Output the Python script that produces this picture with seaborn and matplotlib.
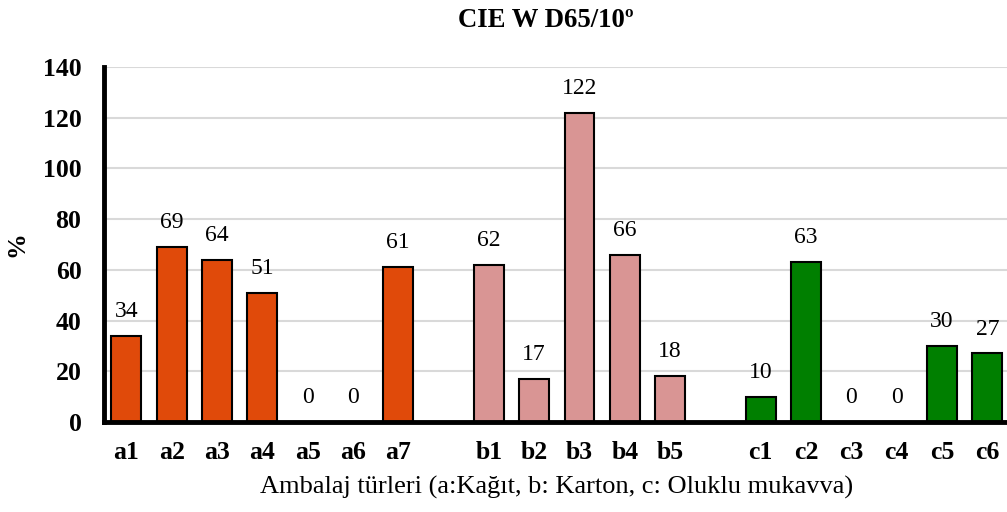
import matplotlib
matplotlib.use("Agg")
import matplotlib.pyplot as plt
import seaborn as sns
import pandas as pd

categories = ["a1", "a2", "a3", "a4", "a5", "a6", "a7",
              "b1", "b2", "b3", "b4", "b5",
              "c1", "c2", "c3", "c4", "c5", "c6"]
values = [34, 69, 64, 51, 0, 0, 61,
          62, 17, 122, 66, 18,
          10, 63, 0, 0, 30, 27]
groups = ["a"] * 7 + ["b"] * 5 + ["c"] * 6
order = ["a1", "a2", "a3", "a4", "a5", "a6", "a7", " ",
         "b1", "b2", "b3", "b4", "b5", "  ",
         "c1", "c2", "c3", "c4", "c5", "c6"]
colors = {"a": "#E04A0A", "b": "#D99594", "c": "#007F00"}
title = "CIE W D65/10º"
xlabel = "Ambalaj türleri (a:Kağıt, b: Karton, c: Oluklu mukavva)"
ylabel = "%"

sns.set_style("white")
plt.rcParams["font.family"] = ["Liberation Serif", "DejaVu Serif"]
plt.rcParams["text.color"] = "black"
plt.rcParams["axes.labelcolor"] = "black"
plt.rcParams["xtick.color"] = "black"
plt.rcParams["ytick.color"] = "black"

df = pd.DataFrame({"cat": categories, "val": values, "grp": groups})

fig = plt.figure(figsize=(10.07, 5.12), dpi=100)
ax = fig.add_axes([0.103, 0.176, 0.900, 0.693])

sns.barplot(data=df, x="cat", y="val", hue="grp", order=order,
            palette=colors, saturation=1, dodge=False, legend=False,
            width=0.66, edgecolor="black", linewidth=1.5, ax=ax, zorder=3)

for cont in ax.containers:
    ax.bar_label(cont, fmt="%d", padding=10, fontsize=17, color="black", zorder=4)

ax.set_ylim(0, 140)
ax.set_xlim(-0.5, len(order) - 0.5)
ax.set_yticks(range(0, 141, 20))
ax.grid(axis="y", color="#D9D9D9", linewidth=1.5, zorder=0)
ax.set_axisbelow(True)

for s in ["top", "right"]:
    ax.spines[s].set_visible(False)
for s in ["left", "bottom"]:
    ax.spines[s].set_linewidth(3.5)
    ax.spines[s].set_color("black")
    ax.spines[s].set_zorder(5)

ax.tick_params(axis="both", length=0, colors="black")
ax.tick_params(axis="x", pad=14, labelsize=18.5)
ax.tick_params(axis="y", pad=16, labelsize=18.5)
for lab in ax.get_xticklabels() + ax.get_yticklabels():
    lab.set_fontweight("bold")

ax.set_xlabel(xlabel, fontsize=19, labelpad=8, color="black")
ax.set_ylabel(ylabel, fontsize=18.5, fontweight="bold", labelpad=10, color="black")
fig.suptitle(title, x=0.542, y=0.985, fontsize=19.3, fontweight="bold", color="black")

fig.savefig("out.png", dpi=100)
